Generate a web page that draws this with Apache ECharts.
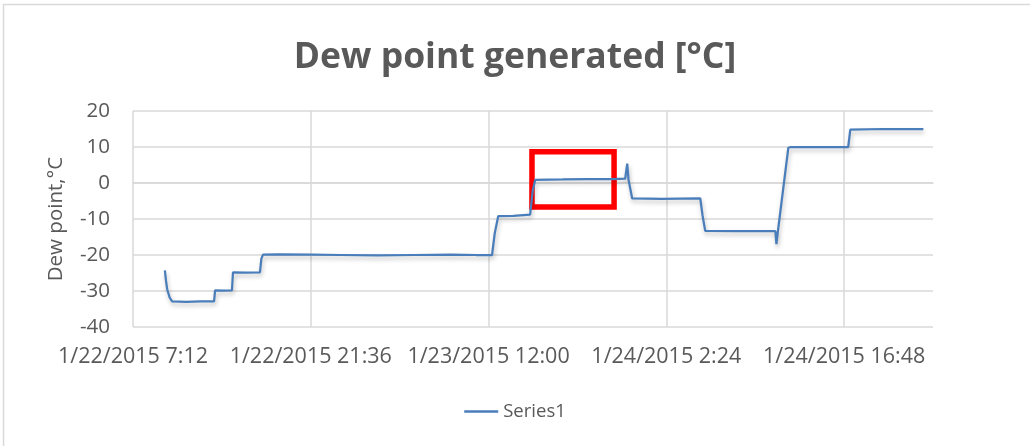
<!DOCTYPE html>
<html>
<head>
<meta charset="utf-8">
<script src="https://cdn.jsdelivr.net/npm/echarts@6/dist/echarts.min.js"></script>
<style>
html, body { margin: 0; padding: 0; background: #fff; }
#main { width: 1030px; height: 446px; }
</style>
</head>
<body>
<div id="main"></div>
<script>
// 读图得到的数据（时间 / 露点）
var times = [
	'2015-01-22 09:47', '2015-01-22 09:52', '2015-01-22 09:58', '2015-01-22 10:10', '2015-01-22 10:22',
	'2015-01-22 11:30', '2015-01-22 12:40', '2015-01-22 13:46', '2015-01-22 13:51', '2015-01-22 14:30',
	'2015-01-22 15:13', '2015-01-22 15:18', '2015-01-22 16:20', '2015-01-22 17:29', '2015-01-22 17:36',
	'2015-01-22 17:44', '2015-01-22 19:00', '2015-01-22 21:36', '2015-01-23 00:00', '2015-01-23 03:00',
	'2015-01-23 06:00', '2015-01-23 09:00', '2015-01-23 11:00', '2015-01-23 12:17', '2015-01-23 12:30',
	'2015-01-23 12:47', '2015-01-23 14:00', '2015-01-23 15:22', '2015-01-23 15:35', '2015-01-23 15:47',
	'2015-01-23 18:00', '2015-01-23 20:00', '2015-01-23 22:00', '2015-01-23 23:04', '2015-01-23 23:14',
	'2015-01-23 23:20', '2015-01-23 23:38', '2015-01-24 02:00', '2015-01-24 05:09', '2015-01-24 05:20',
	'2015-01-24 05:33', '2015-01-24 08:00', '2015-01-24 11:14', '2015-01-24 11:19', '2015-01-24 11:25',
	'2015-01-24 12:17', '2015-01-24 12:30', '2015-01-24 15:00', '2015-01-24 17:08', '2015-01-24 17:18',
	'2015-01-24 20:00', '2015-01-24 23:13'
];
var dewPoint = [
	-24.3, -27.0, -29.5, -31.8, -32.9,
	-33.0, -32.9, -32.9, -29.8, -29.9,
	-29.8, -24.8, -24.9, -24.8, -21.0,
	-19.9, -19.8, -19.9, -20.0, -20.1,
	-20.0, -19.9, -20.0, -20.0, -14.0,
	-9.2, -9.1, -8.8, -2.0, 0.9,
	1.0, 1.1, 1.1, 1.2, 5.4,
	1.0, -4.3, -4.4, -4.3, -9.0,
	-13.3, -13.4, -13.4, -17.0, -14.0,
	9.8, 10.0, 10.0, 10.0, 14.8,
	15.0, 15.0
];

// 坐标轴范围
var axisStart = '2015-01-22 07:12';
var axisEnd = '2015-01-25 00:00';
var yTicks = [-40, -30, -20, -10, 0, 10, 20];

// 红框标注（时间 / 数值）
var boxTimes = ['2015-01-23 15:31', '2015-01-23 22:10'];
var boxValues = [8.65, -6.7];

function toMs(s) {
	var p = s.split(/[- :]/);
	return Date.UTC(+p[0], +p[1] - 1, +p[2], +p[3], +p[4]);
}
var startMs = toMs(axisStart);
function toHours(s) {
	return (toMs(s) - startMs) / 3600000;
}

// 小时偏移 -> 1/22/2015 7:12 这种格式
function fmtLabel(v) {
	var d = new Date(startMs + Math.round(v * 3600000));
	var mm = d.getUTCMinutes();
	return (d.getUTCMonth() + 1) + '/' + d.getUTCDate() + '/' + d.getUTCFullYear() + ' ' +
		d.getUTCHours() + ':' + (mm < 10 ? '0' + mm : mm);
}

var seriesData = [];
for (var i = 0; i < times.length; i++) {
	seriesData.push([toHours(times[i]), dewPoint[i]]);
}

var txt = '#595959';
var grid = '#d9d9d9';

var myChart = echarts.init(document.getElementById('main'));
var option = {
	backgroundColor: '#fff',
	animation: false,
	textStyle: { fontFamily: 'Open Sans' },
	graphic: [{
		type: 'rect',
		shape: { x: 3.5, y: 4.5, width: 1100, height: 500 },
		style: { fill: 'none', stroke: grid, lineWidth: 1.5 },
		silent: true
	}],
	title: {
		text: 'Dew point generated [°C]',
		left: 'center',
		top: 35,
		textStyle: { fontFamily: 'Open Sans', fontWeight: 'bold', fontSize: 35.5, color: txt }
	},
	legend: {
		bottom: 20,
		left: 'center',
		icon: 'rect',
		itemWidth: 34,
		itemHeight: 2.5,
		itemGap: 4,
		textStyle: { fontSize: 18.5, color: txt },
		data: ['Series1']
	},
	grid: { left: 133, right: 97, top: 111, bottom: 119, containLabel: false },
	xAxis: {
		type: 'value',
		min: 0,
		max: toHours(axisEnd),
		interval: 14.4,
		axisLine: { show: true, lineStyle: { color: grid, width: 1.5 } },
		axisTick: { show: false },
		splitLine: {
			show: true,
			lineStyle: { color: [grid, grid, grid, grid, grid, 'rgba(0,0,0,0)'], width: 1.5 }
		},
		axisLabel: {
			showMaxLabel: false,
			color: txt,
			fontSize: 21.5,
			margin: 19,
			formatter: fmtLabel
		}
	},
	yAxis: {
		type: 'value',
		min: yTicks[0],
		max: yTicks[yTicks.length - 1],
		interval: 10,
		name: 'Dew point,°C',
		nameLocation: 'middle',
		nameGap: 66,
		nameTextStyle: { fontSize: 20.5, color: txt },
		axisLine: { show: false },
		axisTick: { show: false },
		splitLine: { lineStyle: { color: grid, width: 1.5 } },
		axisLabel: { color: txt, fontSize: 20.5, margin: 23 }
	},
	series: [{
		name: 'Series1',
		type: 'line',
		data: seriesData,
		symbol: 'none',
		itemStyle: { color: '#4a7ebb' },
		lineStyle: {
			color: '#4a7ebb',
			width: 2.25,
			shadowColor: 'rgba(0,0,0,0.25)',
			shadowBlur: 4,
			shadowOffsetY: 3,
			shadowOffsetX: 1
		},
		markArea: {
			silent: true,
			itemStyle: { color: 'rgba(0,0,0,0)', borderColor: '#ff0000', borderWidth: 5.5 },
			data: [[
				{ coord: [toHours(boxTimes[0]), boxValues[0]] },
				{ coord: [toHours(boxTimes[1]), boxValues[1]] }
			]]
		}
	}]
};
myChart.setOption(option);
</script>
</body>
</html>
